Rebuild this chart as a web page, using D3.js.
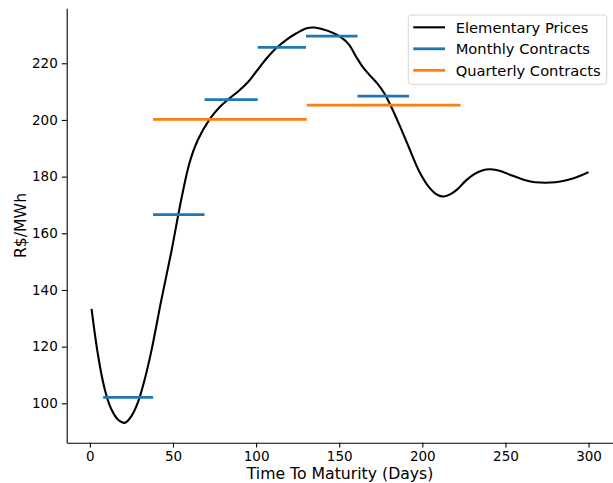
<!DOCTYPE html>
<html>
<head>
<style>
body { margin: 0; background: #fff; }
text { font-family: "DejaVu Sans", sans-serif; fill: #000; }
</style>
</head>
<body>
<svg id="chart" width="613" height="483"></svg>
<script src="https://d3js.org/d3.v7.min.js"></script>
<script>
    // elementary price curve
    const days = [1, 5, 9, 13, 17, 21, 25, 29, 33, 37, 43, 49, 55, 60, 65, 72, 78, 84, 90, 95,
        100, 106, 112, 118, 124, 130, 135, 140, 146, 151, 156, 160, 164, 168, 173, 177, 181, 186, 192, 198,
        204, 209, 213, 217, 221, 226, 231, 236, 241, 247, 253, 259, 265, 271, 277, 283, 289, 295, 300];
    const prices = [133.3, 116.6, 104.8, 97.8, 94.2, 93.1, 95.5, 100.5, 108.5, 118.5, 136.5, 153.5, 172, 185, 193, 200.2, 204.5, 207.6, 210.5, 213.3,
        217, 221.5, 225.3, 228.2, 230.5, 232.3, 232.6, 232, 230.8, 229.2, 226.5, 222.5, 218.8, 216, 212.8, 209.5, 205, 198.5, 190.2, 182,
        176.3, 173.6, 173, 173.8, 175.5, 178.5, 180.8, 182.2, 182.6, 182, 180.6, 179.3, 178.3, 177.9, 177.9, 178.3, 179.1, 180.3, 181.6];

    const monthly_start = [8, 38, 69, 101, 130, 161];
    const monthly_end = [38, 69, 101, 130, 161, 192];
    const monthly_price = [102.1, 166.6, 207.2, 225.6, 229.6, 208.4];

    const quarterly_start = [38, 130.5];
    const quarterly_end = [130.5, 223];
    const quarterly_price = [200.2, 205.2];

    const x_ticks = [0, 50, 100, 150, 200, 250, 300];
    const y_ticks = [100, 120, 140, 160, 180, 200, 220];
    const legend_labels = ["Elementary Prices", "Monthly Contracts", "Quarterly Contracts"];
    const legend_colors = ["#000000", "#1f77b4", "#ff7f0e"];

    const svg = d3.select("#chart");
    const plot_left = 66.7, plot_right = 613.4, plot_top = 8.3, plot_bottom = 442.7;

    const x = d3.scaleLinear().domain([-13.95, 314.95]).range([plot_left, plot_right]);
    const y = d3.scaleLinear().domain([86.1, 239.4]).range([plot_bottom, plot_top]);

    // axes (only left and bottom spines)
    const xAxis = svg.append("g")
        .attr("transform", "translate(0," + plot_bottom + ")")
        .call(d3.axisBottom(x).tickValues(x_ticks).tickSizeInner(4.9).tickSizeOuter(0).tickPadding(4));
    const yAxis = svg.append("g")
        .attr("transform", "translate(" + plot_left + ",0)")
        .call(d3.axisLeft(y).tickValues(y_ticks).tickSizeInner(4.9).tickSizeOuter(0).tickPadding(4));
    [xAxis, yAxis].forEach(a => {
        a.selectAll("text").style("font-size", "13.5px").style("font-family", "DejaVu Sans").attr("fill", "#000");
        a.selectAll("line").attr("stroke", "#000").attr("stroke-width", 1.1);
        a.select(".domain").attr("stroke", "#000").attr("stroke-width", 1.1);
    });

    svg.append("text")
        .attr("x", (plot_left + plot_right) / 2)
        .attr("y", 479)
        .attr("text-anchor", "middle")
        .style("font-size", "15.7px")
        .text("Time To Maturity (Days)");

    svg.append("text")
        .attr("transform", "translate(26," + ((plot_top + plot_bottom) / 2) + ") rotate(-90)")
        .attr("text-anchor", "middle")
        .style("font-size", "15.7px")
        .text("R$/MWh");

    // price curve
    const line = d3.line()
        .x((d, i) => x(days[i]))
        .y(d => y(d))
        .curve(d3.curveCatmullRom.alpha(0.5));

    svg.append("path")
        .datum(prices)
        .attr("d", line)
        .attr("fill", "none")
        .attr("stroke", "#000")
        .attr("stroke-width", 2.1);

    // monthly contracts
    svg.selectAll("line.monthly")
        .data(monthly_price)
        .enter()
        .append("line")
        .attr("class", "monthly")
        .attr("x1", (d, i) => x(monthly_start[i]))
        .attr("x2", (d, i) => x(monthly_end[i]))
        .attr("y1", d => y(d))
        .attr("y2", d => y(d))
        .style("stroke", "#1f77b4")
        .style("stroke-width", 2.8);

    // quarterly contracts
    svg.selectAll("line.quarterly")
        .data(quarterly_price)
        .enter()
        .append("line")
        .attr("class", "quarterly")
        .attr("x1", (d, i) => x(quarterly_start[i]))
        .attr("x2", (d, i) => x(quarterly_end[i]))
        .attr("y1", d => y(d))
        .attr("y2", d => y(d))
        .style("stroke", "#ff7f0e")
        .style("stroke-width", 2.8);

    // legend
    const legend = svg.append("g");
    legend.append("rect")
        .attr("x", 408.3)
        .attr("y", 15)
        .attr("width", 198.4)
        .attr("height", 69.3)
        .attr("rx", 3)
        .style("fill", "rgba(255,255,255,0.8)")
        .style("stroke", "#d6d6d6")
        .style("stroke-width", 1);

    legend.selectAll("line")
        .data(legend_labels)
        .enter()
        .append("line")
        .attr("x1", 413.3)
        .attr("x2", 445)
        .attr("y1", (d, i) => 27.3 + i * 21.5)
        .attr("y2", (d, i) => 27.3 + i * 21.5)
        .style("stroke", (d, i) => legend_colors[i])
        .style("stroke-width", (d, i) => i == 0 ? 2.1 : 2.8);

    legend.selectAll("text")
        .data(legend_labels)
        .enter()
        .append("text")
        .attr("x", 455.7)
        .attr("y", (d, i) => 27.3 + i * 21.5 + 5.3)
        .style("font-size", "14.7px")
        .text(d => d);
</script>
</body>
</html>
